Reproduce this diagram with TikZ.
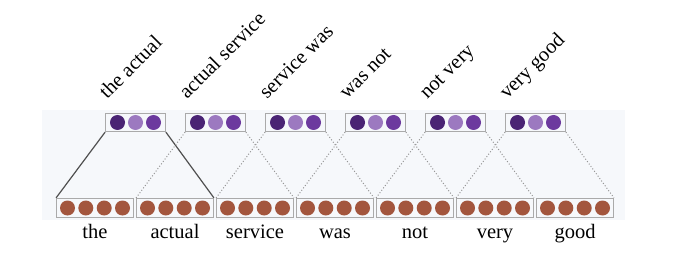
\documentclass[tikz,border=0pt]{standalone}
\usepackage{fontspec}
\setmainfont{Liberation Serif}
\usepackage{tikz}
\usepackage{xcolor}
\usetikzlibrary{positioning}

\definecolor{bgtint}{RGB}{246,248,251}
\definecolor{boxgray}{RGB}{170,170,170}
\definecolor{linkdark}{RGB}{80,80,80}
\definecolor{linkgray}{RGB}{150,150,150}
\definecolor{wordbrown}{RGB}{163,86,62}
\definecolor{purpledark}{RGB}{74,36,116}
\definecolor{purplelight}{RGB}{156,121,192}
\definecolor{purplemid}{RGB}{108,58,158}

\tikzset{%
	wordbox/.style    = {draw=boxgray, line width=1.3pt, minimum width=76.5pt, minimum height=19pt, inner sep=0pt},
	phrasebox/.style  = {draw=boxgray, line width=1.3pt, minimum width=59.5pt, minimum height=18pt, inner sep=0pt},
	wordlabel/.style  = {anchor=base, inner sep=0pt, font=\fontsize{20.5}{24}\selectfont},
	phraselabel/.style= {anchor=base west, rotate=45, inner sep=0pt, font=\fontsize{20.5}{24}\selectfont},
	solidlink/.style  = {draw=linkdark, line width=1.2pt},
	dotlink/.style    = {draw=linkgray, line width=1pt, dotted},
}

\begin{document}
\begin{tikzpicture}[x=1pt,y=1pt]
	\useasboundingbox (0,0) rectangle (700,265);
	\fill[bgtint] (42,45) rectangle (625,155);  % shaded panel
	
	% word vectors
	\foreach \w [count=\i] in {the,actual,service,was,not,very,good} {
		\node[wordbox] (w\i) at ({95+80*(\i-1)},57) {};
		\foreach \dx in {-27.5,-9.2,9.2,27.5}
			\fill[wordbrown] ([xshift=\dx]w\i.center) circle (7.5);
		\node[wordlabel] (t\i) at ([yshift=-20]w\i.south) {\w};
	}
	
	% bigram vectors
	\foreach \p [count=\i] in {the actual,actual service,service was,was not,not very,very good} {
		\node[phrasebox] (p\i) at ({135.5+80*(\i-1)},142.5) {};
		\fill[purpledark]  ([xshift=-18]p\i.center) circle (7.5);
		\fill[purplelight] (p\i.center) circle (7.5);
		\fill[purplemid]   ([xshift=18]p\i.center) circle (7.5);
		\node[phraselabel] (q\i) at ([xshift=2,yshift=13]p\i.north west) {\p};
	}
	
	% window of the first bigram
	\draw[solidlink] (p1.south west) -- (w1.north west);
	\draw[solidlink] (p1.south east) -- (w2.north east);
	
	% remaining windows
	\foreach \i [evaluate=\i as \j using int(\i+1)] in {2,...,6} {
		\draw[dotlink] (p\i.south west) -- (w\i.north west);
		\draw[dotlink] (p\i.south east) -- (w\j.north east);
	}
\end{tikzpicture}
\end{document}
